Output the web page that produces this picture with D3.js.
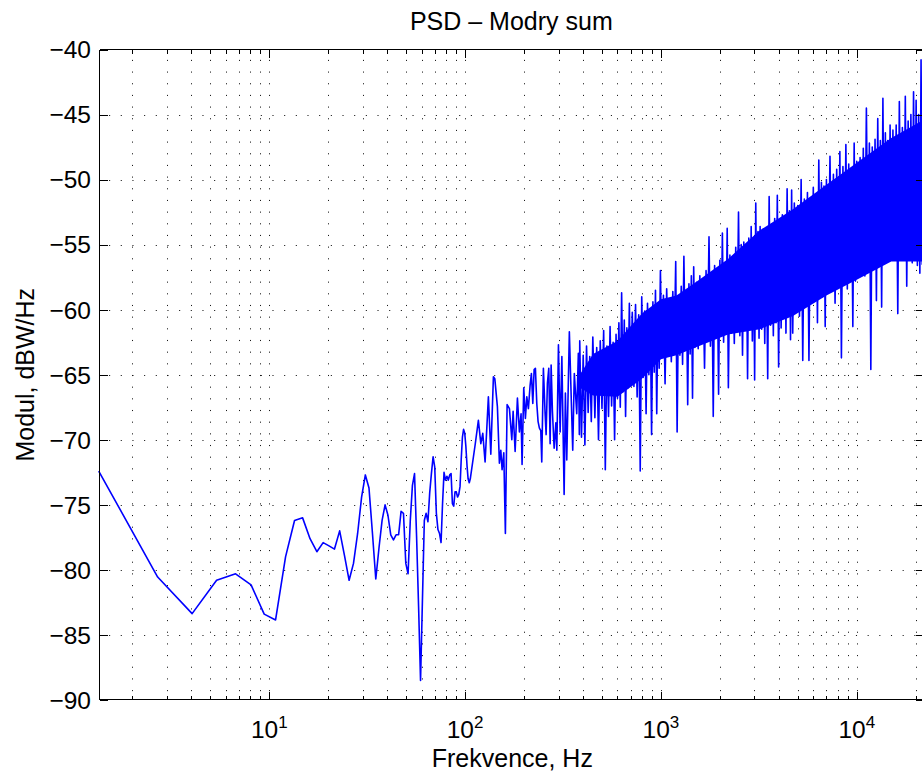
<!DOCTYPE html>
<html><head><meta charset="utf-8">
<script src="https://cdn.jsdelivr.net/npm/d3@7"></script>
<style>
html,body{margin:0;padding:0;background:#fff;overflow:hidden;}
svg{display:block;}
text{font-family:"Liberation Sans", Arial, Helvetica, sans-serif; fill:#000;}
</style></head><body>
<svg id="chart" width="922" height="778"></svg>
<script>
// ---------------- data ----------------
const chartTitle = "PSD \u2013 Modry sum";
const xLabel = "Frekvence, Hz";
const yLabel = "Modul, dBW/Hz";
const yTickValues = [-90, -85, -80, -75, -70, -65, -60, -55, -50, -45, -40];
const xMajorTicks = [10, 100, 1000, 10000];
const xMajorExponents = ["1", "2", "3", "4"];
const freqDomain = [1.3458, 22050];
const dbDomain = [-90, -40];

// FFT bins below ~107 Hz (Hz)
const lowFreq = [1.346,2.692,4.037,5.383,6.729,8.075,9.421,10.77,12.11,13.46,14.80,16.15,17.50,18.84,20.19,21.53,22.88,24.22,25.57,26.92,
  28.26,29.61,30.95,32.30,33.65,34.99,36.34,37.68,39.03,40.37,41.72,43.07,44.41,45.76,47.10,48.45,49.80,51.14,52.49,53.83,
  55.18,56.52,57.87,59.22,60.56,61.91,63.25,64.60,65.94,67.29,68.64,69.98,71.33,72.67,74.02,75.37,76.71,78.06,79.40,80.75,
  82.09,83.44,84.79,86.13,87.48,88.82,90.17,91.51,92.86,94.21,95.55,96.90,98.24,99.59,100.9,102.3,103.6,105.0,106.3];
const lowDb = [-72.4,-80.55,-83.36,-80.8,-80.3,-81.15,-83.4,-83.85,-79.0,-76.2,-76.0,-77.6,-78.6,-77.9,-78.15,-78.4,-77.0,-78.9,-80.8,-79.5,
  -77.2,-74.4,-72.7,-73.7,-77.2,-80.7,-78.3,-76.2,-75.0,-75.8,-77.3,-77.7,-77.3,-77.3,-75.5,-75.65,-79.5,-80.3,-76.2,-73.5,
  -72.6,-77.4,-82.8,-88.5,-82.3,-76.2,-75.65,-76.3,-74.1,-72.6,-71.3,-72.1,-75.65,-76.9,-77.2,-77.9,-74.9,-72.5,-73.1,-72.8,
  -73.1,-72.7,-72.6,-74.9,-75.1,-74.0,-74.0,-74.4,-74.2,-73.6,-71.5,-69.8,-69.2,-69.5,-70.5,-72.0,-73.0,-73.3,-73.0];

// 110 - 385 Hz
const midFreq = [112.5,116.9,120.3,123.1,126.5,131.5,135.3,139.5,141.8,146.2,149.7,152.2,154.5,157.6,160.6,163.9,168.4,173.2,175.9,180.1,
  185.0,189.4,193.1,195.4,199.3,203.2,206.6,210.5,214.8,218.1,221.7,225.2,228.6,232.3,235.9,239.6,243.5,246.3,251.1,256.2,
  259.3,263.2,267.5,271.8,275.0,279.2,284.9,290.7,294.1,299.7,305.7,312.0,320.4,325.2,330.5,340.7,348.8,354.5,361.2,371.6,
  378.7,383.2];
const midDb = [-70.4,-68.5,-70.3,-69.5,-71.7,-66.7,-71.1,-65.15,-65.3,-67.45,-71.8,-70.8,-72.3,-71.0,-77.2,-67.3,-67.6,-70.0,-67.8,-70.9,
  -66.8,-69.4,-68.0,-71.9,-66.0,-68.35,-66.7,-67.6,-65.8,-64.9,-67.2,-64.6,-64.5,-67.2,-68.6,-69.1,-69.3,-71.7,-64.5,-68.0,
  -69.6,-65.65,-64.5,-70.3,-64.25,-67.8,-70.65,-68.7,-70.8,-62.7,-69.4,-63.6,-74.2,-66.4,-71.55,-61.7,-67.1,-70.8,-64.9,-68.0,
  -63.35,-69.6];

// 385 - 3210 Hz (alternating local maxima / minima)
const bandFreq = [385,393,401,409,417,425,433,441,449,
  460,470,480,490,500,510,520,530,540,550,560,570,580,590,600,610,620,630,640,650,660,670,680,690,700,
  714,728,742,756,770,784,798,812,826,840,854,868,882,896,910,924,938,952,966,980,994,
  1010,1030,1050,1070,1090,1110,1130,1150,1170,1190,1210,1230,1250,1270,1290,1310,1330,1350,1370,1390,1410,1430,1450,1470,1490,
  1520,1550,1580,1610,1640,1670,1700,1730,1760,1790,1820,1850,1880,1910,1940,1970,2000,2030,2060,2090,2120,2150,2180,2210,
  2250,2290,2330,2370,2410,2450,2490,2530,2570,2610,2650,2690,2730,2770,2810,2850,2890,2930,2970,3010,3050,3090,3130,3170,3210];
const bandDb = [-62.4,-69.8,-63.5,-70.4,-62.8,-67.9,-63.6,-68.6,-62.1,
  -68.3,-62.9,-70.0,-62.4,-67.6,-61.6,-72.3,-62.8,-68.2,-61.3,-67.4,-62.5,-70.0,-61.9,-66.8,-61.0,-67.5,-58.7,-66.3,-60.8,-68.2,-61.4,-66.0,-59.5,-65.8,
  -60.2,-65.9,-59.6,-66.7,-60.4,-72.4,-59.0,-65.2,-60.1,-68.0,-59.5,-65.0,-60.3,-69.6,-59.4,-64.8,-58.5,-68.0,-59.8,-64.5,-57.0,
  -63.6,-58.9,-65.7,-58.4,-63.2,-59.3,-64.0,-58.6,-62.9,-56.3,-69.4,-59.0,-63.5,-58.2,-64.2,-55.9,-63.0,-58.6,-67.3,-58.0,-63.4,-57.4,-66.8,-56.7,-62.9,
  -57.9,-63.0,-57.4,-62.4,-58.0,-64.5,-57.0,-62.2,-54.4,-62.8,-57.2,-68.2,-56.6,-62.0,-57.0,-66.5,-56.2,-61.7,-54.1,-62.5,-56.4,-61.5,-53.75,-66.0,
  -55.8,-61.8,-56.0,-62.6,-55.2,-61.4,-52.5,-62.0,-55.0,-63.5,-54.8,-61.6,-55.3,-65.3,-54.5,-61.5,-53.6,-62.4,-54.9,-65.4,-51.8,-61.3,-54.0,-62.2,-53.6];

// 3270 - 22050 Hz
const highFreq = [3270,3330,3390,3450,3510,3570,3630,3690,3750,3810,3870,3930,3990,4050,4110,4170,4230,4290,4350,4410,4470,4530,4590,4650,4710,
  4800,4900,5000,5100,5200,5300,5400,5500,5600,5700,5800,5900,6000,6100,6200,6300,6400,6500,6600,6700,6800,6900,7000,
  7150,7300,7450,7600,7750,7900,8050,8200,8350,8500,8650,8800,8950,9100,9250,9400,9550,9700,9850,10000,
  10200,10400,10600,10800,11000,11200,11400,11600,11800,12000,12200,12400,12600,12800,13000,13200,13400,13600,13800,14000,14200,14400,14600,14800,15000,
  15300,15600,15900,16200,16500,16800,17100,17400,17700,18000,18300,18600,18900,19200,19500,19800,20100,20400,20700,21000,21300,21600,21900,22050];
const highDb = [-61.5,-53.8,-62.6,-54.2,-65.3,-51.3,-61.2,-53.4,-62.0,-53.0,-61.0,-51.2,-64.4,-53.2,-61.4,-52.7,-60.5,-53.0,-61.8,-50.7,-60.2,-52.4,-62.3,-50.8,-61.8,
  -51.8,-59.4,-52.0,-60.5,-50.0,-63.9,-51.5,-59.0,-51.0,-63.9,-51.6,-58.6,-50.6,-59.2,-51.2,-61.0,-48.5,-58.4,-50.2,-59.0,-50.5,-61.3,-50.0,
  -58.2,-48.2,-58.6,-49.6,-59.5,-49.2,-58.0,-47.85,-63.7,-49.0,-57.6,-47.3,-58.4,-48.8,-57.4,-49.3,-61.3,-47.2,-57.8,-48.6,
  -57.0,-48.3,-56.5,-47.6,-57.4,-44.5,-56.2,-47.2,-64.6,-47.5,-56.4,-46.9,-59.3,-45.3,-56.0,-47.0,-59.8,-43.75,-55.8,-46.4,-56.3,-47.0,-55.5,-45.8,-56.0,
  -46.2,-55.6,-45.8,-60.3,-44.0,-55.4,-46.0,-56.0,-43.6,-58.2,-45.5,-55.8,-45.0,-56.4,-43.25,-55.9,-43.9,-56.6,-45.0,-57.2,-40.8,-56.5,-44.8,-55.8];

// solidly over-plotted core of the trace (where the spectrum lines merge)
const coreFreq = [385, 450, 600, 800, 1000, 1200, 1500, 2200, 3200, 4700, 7000, 10000, 15000, 22050];
const coreUpper = [-65.0, -63.4, -62.4, -60.3, -59.2, -58.9, -57.9, -56.1, -53.9, -52.3, -50.4, -48.7, -46.8, -45.4];
const coreLower = [-66.0, -66.6, -66.7, -65.3, -63.8, -63.5, -62.9, -61.9, -61.5, -60.5, -58.9, -57.7, -56.3, -56.3];

// ---------------- chart ----------------
const plot = {left: 98.7, right: 924, top: 49.5, bottom: 700};
const svg = d3.select("#chart");

const x = d3.scaleLog().domain(freqDomain).range([plot.left, plot.right]);
const y = d3.scaleLinear().domain(dbDomain).range([plot.bottom, plot.top]);

const toPoints = (fs, vs) => {
  if (fs.length !== vs.length) console.warn("length mismatch", fs.length, vs.length);
  return fs.map((f, i) => ({f: f, v: vs[i]}));
};
const series = toPoints(lowFreq, lowDb).concat(
  toPoints(midFreq, midDb), toPoints(bandFreq, bandDb), toPoints(highFreq, highDb));
const core = coreFreq.map((f, i) => ({f: f, hi: coreUpper[i], lo: coreLower[i]}));

const xTicksAll = x.ticks().filter(t => t >= freqDomain[0] && t <= freqDomain[1]);
const isMajor = t => Math.abs(Math.log10(t) - Math.round(Math.log10(t))) < 1e-9;

// grid (dotted)
const grid = svg.append("g").attr("stroke", "#1a1a1a").attr("stroke-width", 1)
  .attr("stroke-dasharray", "1.1,10.57").attr("fill", "none");
grid.selectAll("line.vg").data(xTicksAll).join("line").attr("class", "vg")
  .attr("x1", d => Math.round(x(d)) + 0.5).attr("x2", d => Math.round(x(d)) + 0.5)
  .attr("y1", plot.top).attr("y2", plot.bottom).attr("stroke-dashoffset", 1.3);
grid.selectAll("line.hg").data(yTickValues.filter(v => v > dbDomain[0] && v < dbDomain[1])).join("line").attr("class", "hg")
  .attr("x1", plot.left).attr("x2", plot.right)
  .attr("y1", d => Math.round(y(d)) + 0.5).attr("y2", d => Math.round(y(d)) + 0.5).attr("stroke-dashoffset", 1.3);

// dense core + data line
svg.append("path").datum(core)
  .attr("d", d3.area().x(d => x(d.f)).y0(d => y(d.lo)).y1(d => y(d.hi)))
  .attr("fill", "#0000ff");
const line = d3.line().x(d => x(d.f)).y(d => y(d.v));
svg.append("path").datum(series).attr("d", line)
  .attr("fill", "none").attr("stroke", "#0000ff").attr("stroke-width", 1.6)
  .attr("stroke-linejoin", "round");

// axes box and ticks
const axes = svg.append("g").attr("stroke", "#000").attr("stroke-width", 1).attr("shape-rendering", "crispEdges");
const L = Math.round(plot.left) + 0.5, R = plot.right, T = plot.top, B = Math.round(plot.bottom) - 0.5;
axes.append("line").attr("x1", L).attr("x2", R).attr("y1", T).attr("y2", T);
axes.append("line").attr("x1", L).attr("x2", R).attr("y1", B).attr("y2", B);
axes.append("line").attr("x1", L).attr("x2", L).attr("y1", T).attr("y2", B);
axes.append("line").attr("x1", R).attr("x2", R).attr("y1", T).attr("y2", B);
const tickLen = t => isMajor(t) ? 8 : 4;
axes.selectAll("line.tt").data(xTicksAll).join("line").attr("class", "tt")
  .attr("x1", d => Math.round(x(d)) + 0.5).attr("x2", d => Math.round(x(d)) + 0.5)
  .attr("y1", T).attr("y2", d => T + tickLen(d));
axes.selectAll("line.bt").data(xTicksAll).join("line").attr("class", "bt")
  .attr("x1", d => Math.round(x(d)) + 0.5).attr("x2", d => Math.round(x(d)) + 0.5)
  .attr("y1", B).attr("y2", d => B - tickLen(d));
axes.selectAll("line.lt").data(yTickValues).join("line").attr("class", "lt")
  .attr("x1", L).attr("x2", L + 8)
  .attr("y1", d => Math.round(y(d)) + 0.5).attr("y2", d => Math.round(y(d)) + 0.5);
axes.selectAll("line.rt").data(yTickValues).join("line").attr("class", "rt")
  .attr("x1", R).attr("x2", R - 8)
  .attr("y1", d => Math.round(y(d)) + 0.5).attr("y2", d => Math.round(y(d)) + 0.5);

// y tick labels
svg.append("g").selectAll("text").data(yTickValues).join("text")
  .attr("x", 91).attr("y", d => y(d)).attr("dy", "0.36em")
  .attr("text-anchor", "end").attr("font-size", 24.5)
  .text(d => "\u2212" + Math.abs(d));

// x tick labels 10^n
const xl = svg.append("g").selectAll("text").data(xMajorTicks).join("text")
  .attr("x", d => x(d)).attr("y", 737.5).attr("text-anchor", "middle").attr("font-size", 24.5);
xl.append("tspan").text("10");
xl.append("tspan").attr("dy", -10).attr("font-size", 17).text((d, i) => xMajorExponents[i]);

// title and axis labels
svg.append("text").attr("x", (plot.left + plot.right) / 2).attr("y", 29.5)
  .attr("text-anchor", "middle").attr("font-size", 25).text(chartTitle);
svg.append("text").attr("x", (plot.left + plot.right) / 2 + 1).attr("y", 766.5)
  .attr("text-anchor", "middle").attr("font-size", 25).text(xLabel);
svg.append("text").attr("transform", `translate(33.5,${(plot.top + plot.bottom) / 2}) rotate(-90)`)
  .attr("text-anchor", "middle").attr("font-size", 25).text(yLabel);
</script>
</body></html>
